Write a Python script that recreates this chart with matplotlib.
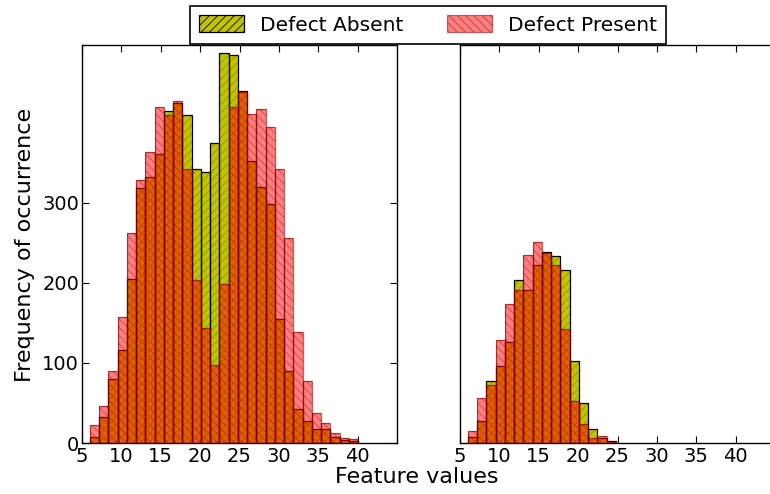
import numpy as np
import matplotlib
matplotlib.use("Agg")
import matplotlib.pyplot as plt
from matplotlib.patches import Patch

# ---- data ----
bin_start = 6.0
bin_end = 40.07
n_bins_left = 29

left_absent = [7, 32, 80, 116, 205, 318, 332, 361, 415, 425, 410, 342, 339, 374, 487,
               484, 440, 352, 320, 299, 155, 90, 42, 27, 17, 17, 8, 4, 3]
left_present = [22, 46, 90, 157, 262, 329, 364, 420, 410, 427, 342, 203, 144, 97, 198,
                419, 438, 411, 417, 395, 342, 256, 138, 77, 37, 25, 12, 6, 5]

right_absent = [8, 27, 77, 96, 126, 203, 191, 222, 239, 233, 216, 102, 50, 17, 6, 2]
right_present = [15, 56, 72, 129, 174, 191, 235, 251, 237, 222, 142, 52, 24, 6, 9, 1]

labels = ["Defect Absent", "Defect Present"]
xticks = [5, 10, 15, 20, 25, 30, 35, 40]
yticks = [0, 100, 200, 300]

# ---- styling ----
plt.rcParams['font.family'] = ['DejaVu Sans']
plt.rcParams['hatch.linewidth'] = 0.6
FS = 14
LFS = 16
olive = '#c2c400'
olive_hatch = '#8f8f00'
red = '#ff0000'
red_hatch = '#b00000'

edges = np.linspace(bin_start, bin_end, n_bins_left + 1)
width = edges[1] - edges[0]

fig = plt.figure(figsize=(7.7, 4.94), dpi=100)
W, H = 770, 494
ax1 = fig.add_axes([82 / W, (H - 443) / H, 315 / W, 398 / H])
ax2 = fig.add_axes([460 / W, (H - 443) / H, 315 / W, 398 / H])


def draw(ax, absent, present):
    n = len(absent)
    x = edges[:n]
    ax.bar(x, absent, width=width, align='edge', color=olive, edgecolor=olive_hatch,
           hatch='////', linewidth=0, zorder=2)
    ax.bar(x, absent, width=width, align='edge', fill=False, edgecolor='black',
           linewidth=0.9, zorder=2.1)
    ax.bar(x, present, width=width, align='edge', color=red, edgecolor=red_hatch,
           hatch='\\\\\\\\', linewidth=0, alpha=0.5, zorder=3)
    ax.bar(x, present, width=width, align='edge', fill=False, edgecolor='#700000',
           linewidth=0.9, alpha=0.6, zorder=3.1)
    ax.set_xlim(5, 45)
    ax.set_ylim(0, 497)
    ax.set_xticks(xticks)
    ax.set_xticklabels([str(t) for t in xticks], fontsize=FS)
    ax.tick_params(direction='in', top=True, right=True, length=5, width=0.8,
                   pad=3, labelsize=FS)
    for s in ax.spines.values():
        s.set_linewidth(1.0)


draw(ax1, left_absent, left_present)
draw(ax2, right_absent, right_present)

ax1.set_yticks(yticks)
ax1.set_yticklabels([str(t) for t in yticks], fontsize=FS)
ax1.tick_params(axis='y', pad=2)
ax2.set_yticks([])

fig.text(25 / W, 1 - 245 / H, "Frequency of occurrence", ha='center', va='center',
         rotation=90, fontsize=LFS)
fig.text(417 / W, 1 - 477 / H, "Feature values", ha='center', va='center', fontsize=LFS)

handles = [Patch(facecolor=olive, edgecolor='black', hatch='////', linewidth=0.9),
           Patch(facecolor=red, edgecolor='#700000', hatch='\\\\\\\\', alpha=0.5, linewidth=0.9)]
leg = fig.legend(handles, labels, loc='center', bbox_to_anchor=(428 / W, 1 - 25 / H),
                 ncol=2, fontsize=14.5, fancybox=False, framealpha=1, edgecolor='black',
                 handlelength=2.2, handleheight=0.9, columnspacing=2.2, borderpad=0.45)
leg.get_frame().set_linewidth(1.2)

fig.savefig("out.png", dpi=100, facecolor='white')
